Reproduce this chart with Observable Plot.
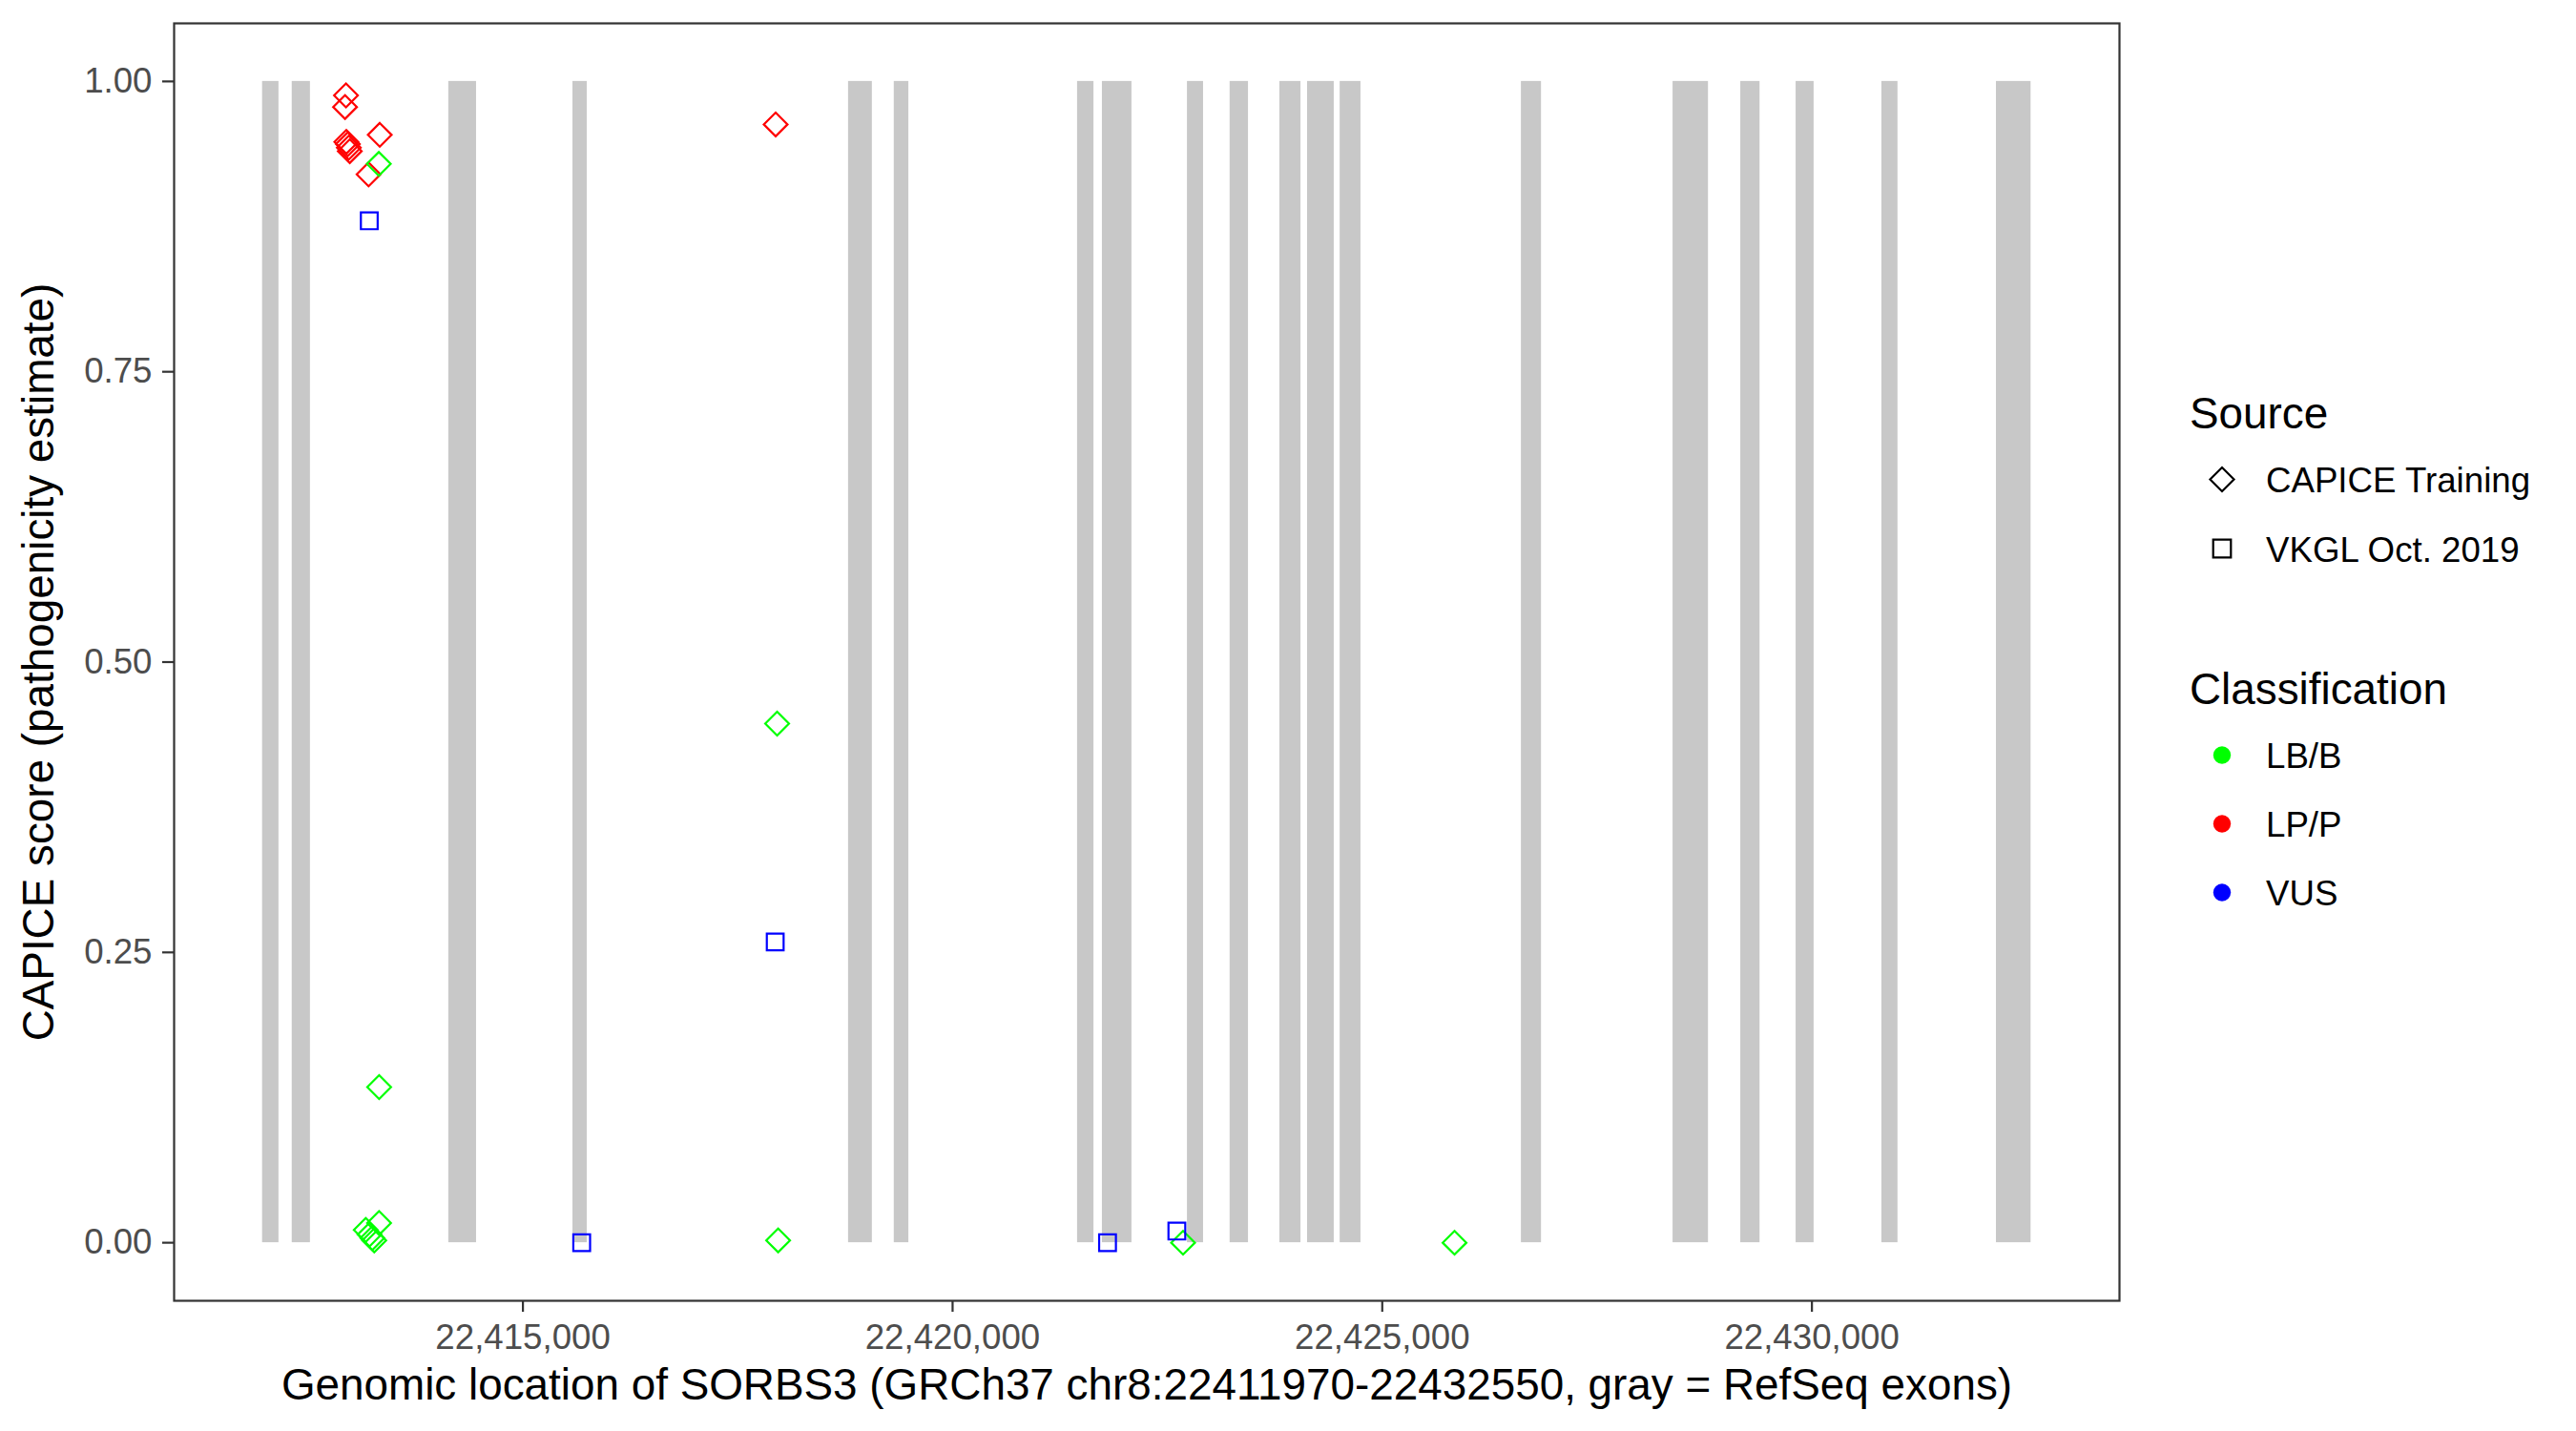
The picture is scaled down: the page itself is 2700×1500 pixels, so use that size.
<!DOCTYPE html>
<html>
<head>
<meta charset="utf-8">
<script src="https://cdn.jsdelivr.net/npm/d3@7"></script>
<script src="https://cdn.jsdelivr.net/npm/@observablehq/plot@0.6"></script>
<style>
  body { margin: 0; background: #fff; }
  #wrap { position: relative; width: 2700px; height: 1500px; background: #fff; }
</style>
</head>
<body>
<div id="wrap"></div>
<script>
// ---------- data ----------
const geneStart = 22411970;
const geneEnd = 22432550;

const exonStart = [22411970, 22412315, 22414137, 22415582, 22418789, 22419321, 22421454, 22421743, 22422733, 22423229, 22423808, 22424131, 22424510, 22426619, 22428384, 22429172, 22429816, 22430814, 22432147];
const exonEnd   = [22412161, 22412527, 22414460, 22415748, 22419066, 22419491, 22421645, 22422087, 22422920, 22423443, 22424054, 22424441, 22424752, 22426853, 22428796, 22429396, 22430025, 22431001, 22432550];

const variantPos = [
  22412941, 22412930, 22412945, 22412963, 22412974, 22412985, 22413334, 22413204, 22417941,
  22413323, 22413327, 22413171, 22413215, 22413248, 22413270, 22413326, 22417958, 22417970, 22422682, 22425841,
  22413212, 22415684, 22417936, 22421803, 22422610
];
const variantScore = [
  0.988, 0.978, 0.948, 0.946, 0.943, 0.940, 0.954, 0.920, 0.963,
  0.929, 0.134, 0.011, 0.007, 0.004, 0.002, 0.017, 0.447, 0.002, 0.000, 0.000,
  0.880, 0.000, 0.259, 0.000, 0.010
];
const variantClass = [
  "LP/P", "LP/P", "LP/P", "LP/P", "LP/P", "LP/P", "LP/P", "LP/P", "LP/P",
  "LB/B", "LB/B", "LB/B", "LB/B", "LB/B", "LB/B", "LB/B", "LB/B", "LB/B", "LB/B", "LB/B",
  "VUS", "VUS", "VUS", "VUS", "VUS"
];
const variantSource = [
  "CAPICE Training", "CAPICE Training", "CAPICE Training", "CAPICE Training", "CAPICE Training", "CAPICE Training", "CAPICE Training", "CAPICE Training", "CAPICE Training",
  "CAPICE Training", "CAPICE Training", "CAPICE Training", "CAPICE Training", "CAPICE Training", "CAPICE Training", "CAPICE Training", "CAPICE Training", "CAPICE Training", "CAPICE Training", "CAPICE Training",
  "VKGL Oct. 2019", "VKGL Oct. 2019", "VKGL Oct. 2019", "VKGL Oct. 2019", "VKGL Oct. 2019"
];

const sourceNames = ["CAPICE Training", "VKGL Oct. 2019"];
const sourceSymbols = ["diamond2", "square2"];
const classNames = ["LB/B", "LP/P", "VUS"];
const classColors = ["#00ff00", "#ff0000", "#0000ff"];

const xTicks = [22415000, 22420000, 22425000, 22430000];
const yTicks = [0, 0.25, 0.5, 0.75, 1];

const xTitle = "Genomic location of SORBS3 (GRCh37 chr8:22411970-22432550, gray = RefSeq exons)";
const yTitle = "CAPICE score (pathogenicity estimate)";

// ---------- tables ----------
const exons = exonStart.map((s, i) => ({start: s, end: exonEnd[i]}));
const variants = variantPos.map((p, i) => ({pos: p, score: variantScore[i], cls: variantClass[i], source: variantSource[i]}));

const FONT = "'Liberation Sans', Arial, Helvetica, sans-serif";
const span = geneEnd - geneStart;
const xDomain = [geneStart - 0.05 * span, geneEnd + 0.05 * span];

const W = 2700, H = 1500;
const mL = 182, mR = W - 2221, mT = 24, mB = H - 1363;

const chart = Plot.plot({
  width: W,
  height: H,
  marginLeft: mL,
  marginRight: mR,
  marginTop: mT,
  marginBottom: mB,
  style: {fontFamily: FONT, background: "#fff", overflow: "visible"},
  x: {type: "linear", domain: xDomain},
  y: {type: "linear", domain: [-0.05, 1.05]},
  color: {domain: classNames, range: classColors},
  symbol: {domain: sourceNames, range: sourceSymbols},
  marks: [
    Plot.rect(exons, {x1: "start", x2: "end", y1: 0, y2: 1, fill: "#c8c8c8"}),
    Plot.dot(variants, {x: "pos", y: "score", stroke: "cls", symbol: "source", r: 11.2, strokeWidth: 2.2, fill: "none"}),
    Plot.frame({stroke: "#333333", strokeWidth: 2.2}),
    Plot.axisX({ticks: xTicks, tickFormat: d3.format(","), tickSize: 12, tickPadding: 12, fontSize: 36.67, stroke: "#333333", fill: "#4d4d4d", strokeWidth: 2.2, label: null}),
    Plot.axisY({ticks: yTicks, tickFormat: d3.format(".2f"), tickSize: 12, tickPadding: 11, fontSize: 36.67, stroke: "#333333", fill: "#4d4d4d", strokeWidth: 2.2, label: null}),
    Plot.text([xTitle], {frameAnchor: "bottom", dy: 89, lineAnchor: "middle", fontSize: 45.83, fill: "#000", textAnchor: "middle"}),
    Plot.text([yTitle], {frameAnchor: "left", dx: -141, rotate: -90, lineAnchor: "middle", fontSize: 45.83, fill: "#000", textAnchor: "middle"})
  ]
});

const wrap = document.getElementById("wrap");
wrap.appendChild(chart);

// ---------- legend ----------
const LX = 2250, LY = 380;
const lg = d3.create("svg")
  .attr("width", 450).attr("height", 620)
  .style("position", "absolute").style("left", LX + "px").style("top", LY + "px")
  .style("font-family", FONT);

const symX = 2329 - LX, textX = 2375 - LX, titleX = 2295 - LX;
const symMap = {diamond2: d3.symbolDiamond2, square2: d3.symbolSquare2};
const symSize = {diamond2: 400, square2: 440};

lg.append("text").attr("x", titleX).attr("y", 449 - LY).attr("font-size", 45.83).attr("fill", "#000").text("Source");
sourceNames.forEach((name, i) => {
  const cy = 502.5 + i * 72.5 - LY;
  const sym = sourceSymbols[i];
  lg.append("path")
    .attr("d", d3.symbol(symMap[sym], symSize[sym])())
    .attr("transform", `translate(${symX},${cy})`)
    .attr("fill", "none").attr("stroke", "#000").attr("stroke-width", 2.2);
  lg.append("text").attr("x", textX).attr("y", cy + 13.5).attr("font-size", 36.67).attr("fill", "#000").text(name);
});

lg.append("text").attr("x", titleX).attr("y", 738 - LY).attr("font-size", 45.83).attr("fill", "#000").text("Classification");
classNames.forEach((name, i) => {
  const cy = 791.5 + i * 72 - LY;
  lg.append("circle").attr("cx", symX).attr("cy", cy).attr("r", 9.2).attr("fill", classColors[i]);
  lg.append("text").attr("x", textX).attr("y", cy + 13.5).attr("font-size", 36.67).attr("fill", "#000").text(name);
});

wrap.appendChild(lg.node());
</script>
</body>
</html>
